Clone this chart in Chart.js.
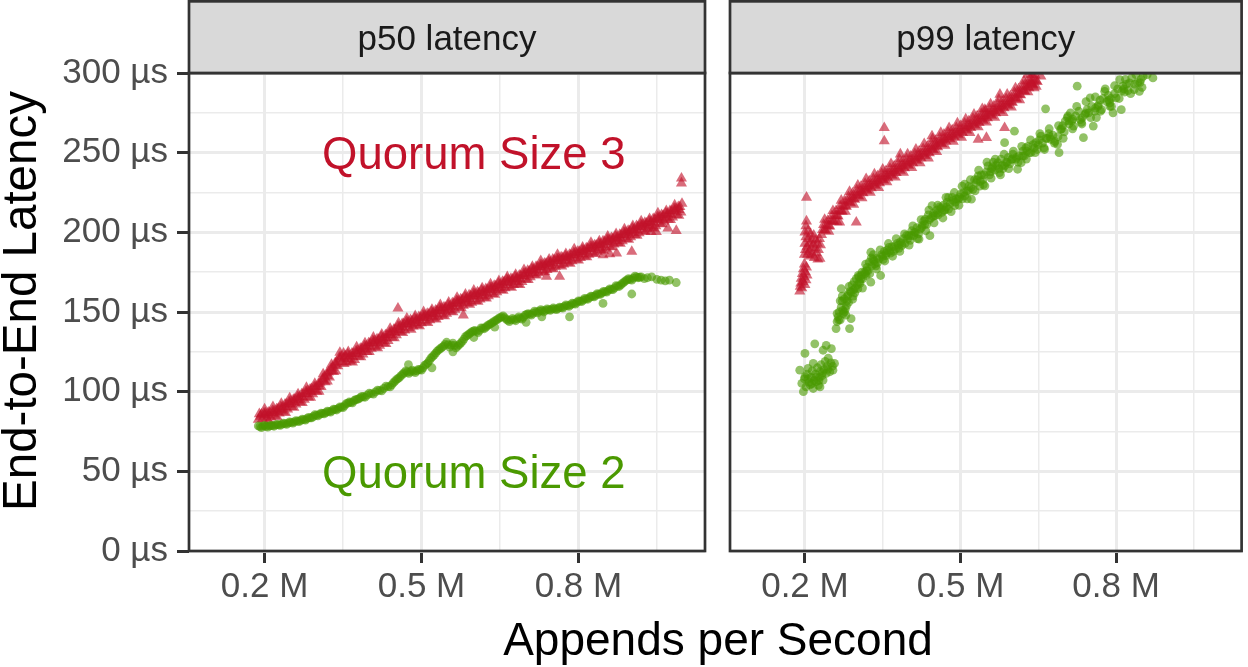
<!DOCTYPE html>
<html><head><meta charset="utf-8">
<script src="https://cdn.jsdelivr.net/npm/chart.js@4.4.1/dist/chart.umd.min.js"></script>
<style>
html,body{margin:0;padding:0;background:#fff;}
#wrap{position:relative;width:1248px;height:667px;overflow:hidden;font-family:"Liberation Sans",Arial,sans-serif;}
canvas{position:absolute;top:0;}
#c1{left:0;}
#c2{left:722px;}
#xt{position:absolute;left:718px;top:616px;transform:translateX(-50%);font-size:46px;line-height:46px;white-space:nowrap;color:#000;}
#yt{position:absolute;width:600px;height:48px;left:-280px;top:277px;transform:rotate(-90deg);text-align:center;font-size:47.5px;line-height:48px;white-space:nowrap;color:#000;}
</style></head>
<body>
<div id="wrap">
<canvas id="c1" width="712" height="667"></canvas>
<canvas id="c2" width="526" height="667"></canvas>
<div id="xt">Appends per Second</div>
<div id="yt">End-to-End Latency</div>
</div>
<script>
// ---- axis / label data ----
const facetLabels = ['p50 latency', 'p99 latency'];
const seriesLabels = ['Quorum Size 3', 'Quorum Size 2'];
const xLimits = [0.0555, 1.042];
const yLimits = [0, 300];
const xMajor = [0.2, 0.5, 0.8];
const xMajorLabels = ['0.2 M', '0.5 M', '0.8 M'];
const xMinor = [0.35, 0.65, 0.95];
const yMajor = [0, 50, 100, 150, 200, 250, 300];
const yMajorLabels = ['0 µs', '50 µs', '100 µs', '150 µs', '200 µs', '250 µs', '300 µs'];
const yMinor = [25, 75, 125, 175, 225, 275];
const annotX = 0.6;
const annotY = [250, 50];

// ---- series values: [appends per second (M), latency (µs)] ----
const p50Q3 = [
[0.188,82.5],[0.190,86],[0.196,83],[0.199,86.5],[0.204,83.5],[0.207,87],[0.212,84],[0.215,88],[0.220,85],[0.223,89],
[0.228,86.5],[0.231,90.5],[0.236,87.5],[0.239,92],[0.244,89],[0.247,93.5],[0.252,90.5],[0.255,95],[0.260,92],[0.263,96.5],
[0.268,93.5],[0.271,98.5],[0.276,95],[0.279,100],[0.284,96.5],[0.287,101.5],[0.292,98.5],[0.295,103],[0.300,100],[0.303,105],
[0.308,103],[0.311,108],[0.316,106],[0.319,111.5],[0.324,109],[0.327,114.5],[0.332,112.5],[0.335,118],[0.340,116],[0.343,121.5],
[0.348,118.5],[0.351,124],[0.356,118.5],[0.359,123.5],[0.364,119],[0.367,124],[0.372,120],[0.375,125.5],[0.380,122],[0.383,127],
[0.388,123.5],[0.391,128.5],[0.396,125],[0.399,130.5],[0.404,127],[0.407,132],[0.412,128],[0.415,133],[0.420,129],[0.423,134.5],
[0.428,130.5],[0.431,135.5],[0.436,132],[0.439,137],[0.444,134],[0.447,139],[0.452,135.5],[0.455,141],[0.460,137.5],[0.463,142.5],
[0.468,138.5],[0.471,144],[0.476,140],[0.479,145],[0.484,141],[0.487,146],[0.492,142],[0.495,147],[0.500,143],[0.503,148],
[0.508,144],[0.511,149],[0.516,145],[0.519,150],[0.524,146],[0.527,151],[0.532,147],[0.535,152.5],[0.540,148],[0.543,153],
[0.548,149],[0.551,154.5],[0.556,150.5],[0.559,155.5],[0.564,151.5],[0.567,157],[0.572,153],[0.575,158],[0.580,154],[0.583,159.5],
[0.588,155.5],[0.591,160.5],[0.596,156],[0.599,161.5],[0.604,157],[0.607,162.5],[0.612,158],[0.615,163.5],[0.620,159],[0.623,164.5],
[0.628,160],[0.631,165.5],[0.636,161.5],[0.639,166.5],[0.644,162.5],[0.647,168],[0.652,164],[0.655,169],[0.660,165],[0.663,170.5],
[0.668,166],[0.671,171],[0.676,167],[0.679,172],[0.684,167.5],[0.687,173],[0.692,169],[0.695,174],[0.700,170.5],[0.703,176],
[0.708,172],[0.711,177],[0.716,173.5],[0.719,178.5],[0.724,174.5],[0.727,179.5],[0.732,175.5],[0.735,180.5],[0.740,176.5],[0.743,181.5],
[0.748,177.5],[0.751,183],[0.756,178.5],[0.759,183.5],[0.764,179.5],[0.767,184.5],[0.772,180],[0.775,185],[0.780,181],[0.783,186],
[0.788,182],[0.791,187],[0.796,183],[0.799,188],[0.804,184],[0.807,189],[0.812,185],[0.815,190],[0.820,186],[0.823,191],
[0.828,187],[0.831,192],[0.836,188],[0.839,193],[0.844,189],[0.847,194.5],[0.852,190],[0.855,195.5],[0.860,191],[0.863,196.5],
[0.868,192.5],[0.871,197.5],[0.876,193.5],[0.879,198.5],[0.884,194.5],[0.887,200],[0.892,196],[0.895,201],[0.900,197],[0.903,202.5],
[0.908,198.5],[0.911,204],[0.916,199.5],[0.919,205],[0.924,201],[0.927,206],[0.932,202],[0.935,207],[0.940,203],[0.943,208.5],
[0.948,204],[0.951,209.5],[0.956,205.5],[0.959,211],[0.964,207],[0.967,212],[0.972,208],[0.975,213.5],[0.980,209.5],[0.983,215],
[0.988,211],[0.991,216],[0.996,212.5],[0.998,218],
[0.192,84.4],[0.200,85.3],[0.208,85.2],[0.216,86.4],[0.224,87.4],[0.232,88.5],[0.240,90.2],[0.248,92.2],[0.256,93.4],[0.264,94.6],
[0.272,96.6],[0.280,98.6],[0.288,99.8],[0.296,101],[0.304,103.5],[0.312,107.2],[0.320,110],[0.328,112.9],[0.336,116.6],[0.344,120.3],
[0.352,121],[0.360,120.6],[0.368,122],[0.376,124],[0.384,125.2],[0.392,126.5],[0.400,128.5],[0.408,130.3],[0.416,130.9],[0.424,131.7],
[0.432,133.5],[0.440,135.8],[0.448,137.2],[0.456,138.6],[0.464,140.6],[0.472,142.1],[0.480,142.6],[0.488,143.2],[0.496,144.7],[0.504,146.3],
[0.512,146.8],[0.520,147.4],[0.528,148.9],[0.536,150.5],[0.544,151],[0.552,151.7],[0.560,153.5],[0.568,155.3],[0.576,156],[0.584,156.8],
[0.592,158.2],[0.600,159.7],[0.608,160.1],[0.616,160.7],[0.624,162.1],[0.632,163.6],[0.640,164.4],[0.648,165.2],[0.656,167],[0.664,168.4],
[0.672,168.8],[0.680,169.2],[0.688,170.6],[0.696,172.7],[0.704,173.7],[0.712,174.6],[0.720,176.4],[0.728,178],[0.736,178.5],[0.744,179.1],
[0.752,180.6],[0.760,181.9],[0.768,182.2],[0.776,182.6],[0.784,183.9],[0.792,185.5],[0.800,186],[0.808,186.6],[0.816,188],[0.824,189.5],
[0.832,190],[0.840,190.6],[0.848,192.1],[0.856,193.7],[0.864,194.2],[0.872,194.8],[0.880,196.4],[0.888,198.2],[0.896,199],[0.904,199.8],
[0.912,201.6],[0.920,203.2],[0.928,203.8],[0.936,204.4],[0.944,206.1],[0.952,207.9],[0.960,208.7],[0.968,209.5],[0.976,211.3],[0.984,213.2],[0.992,214.1],
[0.194,85.8],[0.202,86.5],[0.210,86.8],[0.218,88],[0.226,89.2],[0.234,90.3],[0.242,92],[0.250,94],[0.258,95.3],[0.266,96.6],
[0.274,98.5],[0.282,100.5],[0.290,101.8],[0.298,103],[0.306,105.8],[0.314,109.2],[0.322,112.2],[0.330,115.2],[0.338,118.8],[0.346,122],
[0.354,122.5],[0.362,122.4],[0.370,123.8],[0.378,125.8],[0.386,127],[0.394,128.5],[0.402,130.3],[0.410,131.8],[0.418,132.6],[0.426,133.6],
[0.434,135.4],[0.442,137.6],[0.450,139.1],[0.458,140.6],[0.466,142.3],[0.474,143.6],[0.482,144.3],[0.490,145.2],[0.498,146.5],[0.506,147.8],
[0.514,148.6],[0.522,149.4],[0.530,150.7],[0.538,152.2],[0.546,152.8],[0.554,153.6],[0.562,155.3],[0.570,156.9],[0.578,157.8],[0.586,158.6],
[0.594,160],[0.602,161.3],[0.610,161.9],[0.618,162.6],[0.626,163.9],[0.634,165.3],[0.642,166.2],[0.650,167.2],[0.658,168.8],[0.666,170],
[0.674,170.5],[0.682,171.2],[0.690,172.6],[0.698,174.4],[0.706,175.5],[0.714,176.6],[0.722,178.2],[0.730,179.6],[0.738,180.3],[0.746,181.1],
[0.754,182.4],[0.762,183.5],[0.770,184],[0.778,184.6],[0.786,185.7],[0.794,187.2],[0.802,187.8],[0.810,188.6],[0.818,189.8],[0.826,191.2],
[0.834,191.8],[0.842,192.6],[0.850,193.9],[0.858,195.4],[0.866,196],[0.874,196.8],[0.882,198.3],[0.890,200],[0.898,200.8],[0.906,201.8],
[0.914,203.4],[0.922,204.9],[0.930,205.6],[0.938,206.4],[0.946,208],[0.954,209.6],[0.962,210.5],[0.970,211.5],[0.978,213.2],[0.986,214.9],[0.994,216],
[0.200,89],[0.216,90.5],[0.232,92.5],[0.248,96],[0.264,98.5],[0.280,102.5],[0.296,105],[0.312,111],[0.328,117],[0.344,124.5],
[0.360,125],[0.376,128],[0.392,130.5],[0.408,134],[0.424,136],[0.440,139.5],[0.456,143],[0.472,146],[0.488,147.5],[0.504,150],
[0.520,151.5],[0.536,154.5],[0.552,156],[0.568,159],[0.584,161],[0.600,163.5],[0.616,165],[0.632,167.5],[0.648,169.5],[0.664,172],
[0.680,173.5],[0.696,176.5],[0.712,178.5],[0.728,182],[0.744,183],[0.760,186],[0.776,186.5],[0.792,189.5],[0.808,190.5],[0.824,193.5],
[0.840,194.5],[0.856,197.5],[0.872,199],[0.888,202],[0.904,204],[0.920,207],[0.936,208.5],[0.952,212],[0.968,213.5],[0.984,217],
[0.208,81.7],[0.224,84],[0.240,86.7],[0.256,90],[0.272,93],[0.288,96.3],[0.304,100],[0.320,106.5],[0.336,113],[0.352,117.5],
[0.368,118.5],[0.384,121.7],[0.400,125],[0.416,127.4],[0.432,130],[0.448,133.7],[0.464,137],[0.480,139],[0.496,141.2],[0.512,143.3],
[0.528,145.4],[0.544,147.5],[0.560,150],[0.576,152.5],[0.592,154.7],[0.608,156.6],[0.624,158.6],[0.640,161],[0.656,163.5],[0.672,165.3],
[0.688,167],[0.704,170.2],[0.720,173],[0.736,175],[0.752,177],[0.768,178.7],[0.784,180.4],[0.800,182.5],[0.816,184.5],[0.832,186.5],
[0.848,188.6],[0.864,190.7],[0.880,193],[0.896,195.5],[0.912,198],[0.928,200.3],[0.944,202.6],[0.960,205.2],[0.976,207.8],[0.992,210.6],
[0.455,152.3],[0.580,148],[0.739,172.2],[0.764,172.2],[0.847,185.8],[0.860,186.4],[0.873,186.8],[0.902,187.9],
[0.939,200.4],[0.949,200.4],[0.971,202.5],[0.987,201],[0.997,233.9],[0.997,230.8]
];
const p50Q2 = [
[0.188,78.5],[0.194,77.5],[0.200,78.8],[0.206,77.8],[0.212,78.9],[0.218,78.3],[0.224,79.5],[0.230,78.9],[0.236,80.2],[0.242,79.5],
[0.248,81],[0.254,80.3],[0.260,81.8],[0.266,81.2],[0.272,82.8],[0.278,82.2],[0.284,83.8],[0.290,83.5],[0.296,85.5],[0.302,84.8],
[0.308,86.5],[0.314,86],[0.320,87.8],[0.326,87.2],[0.332,89],[0.338,88.5],[0.344,90.5],[0.350,90],[0.356,92.5],[0.362,93.5],
[0.368,93],[0.374,95],[0.380,95.5],[0.386,97],[0.392,96.5],[0.400,99],[0.408,98.5],[0.416,101],[0.424,100.5],[0.432,103.5],
[0.440,103],[0.446,105.5],[0.452,107.5],[0.458,109],[0.464,111],[0.470,113],[0.476,111.5],[0.482,113.5],[0.488,112],[0.494,114],
[0.500,113.5],[0.506,116.5],[0.512,118],[0.518,121],[0.524,123],[0.530,125.5],[0.536,127],[0.542,128.5],[0.548,131],[0.554,128],
[0.560,130.5],[0.566,127.5],[0.572,129.5],[0.578,131.5],[0.584,134.5],[0.590,136],[0.596,137.5],[0.602,138.5],[0.608,137],[0.614,140],
[0.620,139.5],[0.626,141.5],[0.632,142.5],[0.638,144],[0.644,145],[0.650,146.5],[0.656,147.5],[0.662,145.5],[0.668,144],[0.674,146],
[0.680,144.5],[0.686,147],[0.692,145.5],[0.698,148],[0.704,149],[0.710,148],[0.716,150.5],[0.722,149.5],[0.728,151.5],[0.734,150],
[0.740,152],[0.746,151],[0.752,152.5],[0.758,151.5],[0.764,153],[0.770,152.5],[0.776,154.5],[0.782,153.5],[0.788,155.5],[0.794,155],
[0.800,157],[0.806,156.5],[0.812,158.5],[0.818,158],[0.824,160],[0.830,159.5],[0.836,161.5],[0.842,161],[0.848,163],[0.854,162.5],
[0.860,164.5],[0.866,164],[0.872,166.5],[0.878,166],[0.884,168],[0.890,169.5],[0.896,171],[0.902,170],[0.908,172.5],[0.914,171.5],
[0.920,172],[0.926,171],[0.932,171.5],[0.940,172],[0.950,170.5],[0.958,170],[0.966,169.5],[0.974,170],[0.987,168.5],
[0.191,78],[0.197,78.4],[0.203,78.2],[0.209,78.5],[0.215,78.7],[0.221,79.1],[0.227,79.2],[0.233,79.6],[0.239,79.9],[0.245,80.3],
[0.251,80.7],[0.257,81.1],[0.263,81.5],[0.269,82],[0.275,82.5],[0.281,83],[0.287,83.6],[0.293,84.4],[0.299,85.2],[0.305,85.7],
[0.311,86.3],[0.317,86.9],[0.323,87.5],[0.329,88.1],[0.335,88.8],[0.341,89.5],[0.347,90.3],[0.353,91.3],[0.359,92.8],[0.365,93.3],
[0.371,94.3],[0.377,95.2],[0.383,96.3],[0.389,96.8],[0.396,97.8],[0.404,98.8],[0.412,99.8],[0.420,100.8],[0.428,102],[0.436,103.2],
[0.443,104.3],[0.449,106.5],[0.455,108.2],[0.461,110],[0.467,112],[0.473,112.2],[0.479,112.5],[0.485,112.8],[0.491,113],[0.497,113.8],
[0.503,115],[0.509,117.2],[0.515,119.5],[0.521,122],[0.527,124.2],[0.533,126.2],[0.539,127.8],[0.545,129.7],[0.551,129.5],[0.557,129.2],
[0.563,129],[0.569,128.5],[0.575,130.5],[0.581,133],[0.587,135.2],[0.593,136.8],[0.599,138],[0.605,137.8],[0.611,138.5],[0.617,139.8],
[0.623,140.5],[0.629,142],[0.635,143.2],[0.641,144.5],[0.647,145.8],[0.653,147],[0.659,146.5],[0.665,144.8],[0.671,145],[0.677,145.2],
[0.683,145.8],[0.689,146.2],[0.695,146.8],[0.701,148.5],[0.707,148.5],[0.713,149.2],[0.719,150],[0.725,150.5],[0.731,150.8],[0.737,151],
[0.743,151.5],[0.749,151.8],[0.755,152],[0.761,152.2],[0.767,152.8],[0.773,153.5],[0.779,154],[0.785,154.5],[0.791,155.2],[0.797,156],
[0.803,156.8],[0.809,157.5],[0.815,158.2],[0.821,159],[0.827,159.8],[0.833,160.5],[0.839,161.2],[0.845,162],[0.851,162.8],[0.857,163.5],
[0.863,164.2],[0.869,165.2],[0.875,166.2],[0.881,167],[0.887,168.8],[0.893,170.2],[0.899,170.5],[0.905,171.2],[0.911,172],[0.917,171.8],
[0.52,115],[0.56,125],[0.60,134],[0.64,140.5],[0.70,143.5],[0.73,147],[0.847,155.4],[0.902,161.3],[0.783,147],[0.475,117]
];
const p99Q3 = [
[0.190,163],[0.191,166],[0.192,168],[0.193,171],[0.194,165],[0.195,174],[0.196,169],[0.197,177],[0.198,172],[0.199,180],
[0.200,167],[0.201,175],[0.202,170],[0.203,178],[0.204,173],
[0.199,186],[0.200,193],[0.200,200],[0.201,189],[0.202,204],[0.202,197],[0.203,207],[0.203,221.9],[0.204,191],[0.205,186],
[0.206,201],[0.207,196],[0.208,188],[0.209,193],[0.210,185],[0.211,199],[0.212,190],[0.214,195],[0.215,186],[0.216,192],
[0.217,198],[0.218,184],[0.220,190],[0.221,195],[0.222,187],[0.224,193],[0.225,183],[0.226,189],[0.228,196],[0.229,183.5],[0.230,192],
[0.232,198.5],[0.236,204.8],[0.240,201.1],[0.244,207.4],[0.248,203.75],[0.252,210.3],[0.256,206.9],[0.260,213.5],[0.264,210.1],[0.268,216.6],
[0.272,213.1],[0.276,219.7],[0.280,216.25],[0.284,222.3],[0.288,218.4],[0.292,224.5],[0.296,220.5],[0.300,226.6],[0.304,222.6],[0.308,228.7],
[0.312,224.7],[0.316,230.5],[0.320,226.3],[0.324,232.1],[0.328,227.8],[0.332,233.6],[0.336,229.4],[0.340,235.2],[0.344,231],[0.348,236.8],
[0.352,232.6],[0.356,238.4],[0.360,234.1],[0.364,239.9],[0.368,235.7],[0.372,241.5],[0.376,237.3],[0.380,243.1],[0.384,238.8],[0.388,244.6],
[0.392,240.4],[0.396,246.2],[0.400,241.9],[0.404,247.7],[0.408,243.5],[0.412,249.3],[0.416,245],[0.420,250.8],[0.424,246.6],[0.428,252.4],
[0.432,248.1],[0.436,253.9],[0.440,249.7],[0.444,255.7],[0.448,251.6],[0.452,257.6],[0.456,253.6],[0.460,259.5],[0.464,255.5],[0.468,261.4],
[0.472,257.2],[0.476,262.9],[0.480,258.5],[0.484,264.2],[0.488,259.8],[0.492,265.5],[0.496,261.1],[0.500,266.8],[0.504,262.5],[0.508,268.3],
[0.512,264],[0.516,269.8],[0.520,265.6],[0.524,271.4],[0.528,267.1],[0.532,272.9],[0.536,268.7],[0.540,274.5],[0.544,270.2],[0.548,276],
[0.552,271.8],[0.556,277.6],[0.560,273.3],[0.564,279.1],[0.568,274.9],[0.572,280.7],[0.576,276.5],[0.580,282.2],[0.584,278],[0.588,283.8],
[0.592,279.6],[0.596,285.3],[0.600,281.4],[0.604,287.6],[0.608,283.7],[0.612,289.9],[0.616,286.1],[0.620,292.2],[0.624,288.4],[0.628,294.6],
[0.632,290.6],[0.636,296.6],[0.640,292.6],[0.644,298.6],[0.648,294.4],
[0.234,201.6],[0.242,204.3],[0.250,207],[0.258,210.2],[0.266,213.4],[0.274,216.4],[0.282,219.3],[0.290,221.5],[0.298,223.6],[0.306,225.7],
[0.314,227.6],[0.322,229.2],[0.330,230.7],[0.338,232.3],[0.346,233.9],[0.354,235.5],[0.362,237],[0.370,238.6],[0.378,240.2],[0.386,241.7],
[0.394,243.3],[0.402,244.8],[0.410,246.4],[0.418,247.9],[0.426,249.5],[0.434,251],[0.442,252.7],[0.450,254.6],[0.458,256.5],[0.466,258.4],
[0.474,260],[0.482,261.3],[0.490,262.6],[0.498,264],[0.506,265.4],[0.514,266.9],[0.522,268.5],[0.530,270],[0.538,271.6],[0.546,273.1],
[0.554,274.7],[0.562,276.2],[0.570,277.8],[0.578,279.3],[0.586,280.9],[0.594,282.4],[0.602,284.5],[0.610,286.8],[0.618,289.1],[0.626,291.5],
[0.634,293.6],[0.642,295.6],
[0.238,201.5],[0.246,204],[0.254,207],[0.262,210.3],[0.270,213.4],[0.278,216.5],[0.286,218.9],[0.294,221],[0.302,223.1],[0.310,225.1],
[0.318,226.9],[0.326,228.5],[0.334,230],[0.342,231.6],[0.350,233.2],[0.358,234.8],[0.366,236.3],[0.374,237.9],[0.382,239.5],[0.390,241],
[0.398,242.6],[0.406,244.1],[0.414,245.7],[0.422,247.2],[0.430,248.8],[0.438,250.3],[0.446,252.1],[0.454,254.1],[0.462,256],[0.470,257.9],
[0.478,259.2],[0.486,260.4],[0.494,261.8],[0.502,263.1],[0.510,264.7],[0.518,266.2],[0.526,267.8],[0.534,269.3],[0.542,270.9],[0.550,272.4],
[0.558,274],[0.566,275.5],[0.574,277.1],[0.582,278.6],[0.590,280.2],[0.598,281.8],[0.606,284.2],[0.614,286.5],[0.622,288.8],[0.630,291.3],
[0.638,293.1],[0.646,295.1],
[0.238,208],[0.254,213.5],[0.270,220],[0.286,225.5],[0.302,229.5],[0.318,233.5],[0.334,236.5],[0.350,239.5],[0.366,243],[0.382,246],
[0.398,249],[0.414,252],[0.430,255.5],[0.446,258.5],[0.462,262.5],[0.478,265.5],[0.494,268.5],[0.510,271],[0.526,274],[0.542,277.5],
[0.558,280.5],[0.574,283.5],[0.590,286.5],[0.606,290.5],[0.622,295],[0.638,299],
[0.246,200.5],[0.262,206.5],[0.278,213],[0.294,217.5],[0.310,221.5],[0.326,225],[0.342,228],[0.358,231.5],[0.374,234.5],[0.390,237.5],
[0.406,240.5],[0.422,243.5],[0.438,246.5],[0.454,250.5],[0.470,254.5],[0.486,257],[0.502,259.5],[0.518,262.5],[0.534,266],[0.550,269],
[0.566,272],[0.582,275],[0.598,278.5],[0.614,283],[0.630,288],[0.646,291.5],
[0.353,265.6],[0.353,257.3],[0.299,206.25],[0.267,206.25],[0.534,258.3],[0.550,259.4],[0.585,265.6],[0.636,293.75],[0.642,290.6],
[0.655,297.9],[0.630,299],[0.384,249],[0.445,260.4],[0.547,277],[0.576,286.5]
];
const p99Q2 = [
[0.190,113.5],[0.194,105.2],[0.197,100],[0.199,108],[0.200,109.4],[0.200,124],[0.202,103],[0.204,111],[0.206,114.6],[0.208,106],
[0.210,104.2],[0.212,109],[0.214,113],[0.216,102],[0.216,117.7],[0.218,107],[0.219,130],[0.220,111],[0.222,106.25],[0.224,115],
[0.226,104],[0.228,109],[0.229,103],[0.229,112.5],[0.231,117],[0.233,110],[0.235,107.3],[0.235,126],[0.237,114],[0.239,119],
[0.241,111.5],[0.241,129],[0.243,116],[0.245,121],[0.248,112.5],[0.250,118],[0.251,127],[0.254,113.5],[0.257,117.7],
[0.260,139.6],[0.262,144],[0.264,147],[0.266,150],[0.268,145],[0.270,153],[0.270,164.6],[0.272,157],[0.274,149],[0.276,158.3],
[0.278,152],[0.280,154],[0.282,160],[0.284,156],[0.286,139.6],[0.287,163],[0.289,145.8],[0.289,162.5],[0.291,167],[0.293,160],
[0.295,169],[0.297,165],[0.299,171],[0.302,164.6],[0.304,172],[0.306,168],[0.308,170.8],[0.310,175],[0.312,171],[0.315,175],
[0.318,172.9],[0.320,178],[0.322,176],[0.324,181.25],[0.327,168.75],[0.327,187.5],[0.329,179],[0.331,183],[0.334,180],[0.337,179],
[0.339,184],[0.343,183.3],[0.346,172.9],[0.348,186],[0.351,183],[0.353,188],[0.356,185.4],[0.359,189],[0.362,190.6],[0.365,187],
[0.368,191],[0.371,188],[0.375,189.6],[0.378,193],[0.381,190],[0.384,194],[0.387,191.7],[0.390,196],[0.393,193],[0.396,198],
[0.400,197.9],[0.403,195],[0.406,201],[0.410,198],[0.413,200],[0.416,203],[0.420,195.8],[0.422,202],[0.426,204.2],[0.429,207],
[0.432,208.3],[0.435,205],[0.438,211],[0.441,197.9],[0.443,209],[0.445,216.7],[0.448,212],[0.451,210.4],[0.454,214],[0.457,211],
[0.460,216],[0.464,212.5],[0.467,217],[0.470,214],[0.474,219],[0.477,214.6],[0.477,221.9],[0.480,218],[0.484,222],[0.489,216.7],
[0.492,221],[0.496,220.8],[0.500,224],[0.504,221],[0.508,222.9],[0.508,230.2],[0.512,226],[0.516,229],[0.521,220.8],[0.524,227],
[0.527,233],[0.530,231.25],[0.534,235.4],[0.537,229],[0.540,236],[0.543,233],[0.547,229.2],[0.550,238],[0.553,241.7],[0.556,236],
[0.560,240],[0.563,244],[0.566,239],[0.569,242],[0.572,243.75],[0.575,237.5],[0.578,246],[0.582,240],[0.585,241.7],[0.585,256.25],
[0.588,244],[0.592,247],[0.595,243],[0.598,245.8],[0.601,249],[0.604,263.5],[0.607,246],[0.610,239.6],[0.613,248],[0.617,243.75],
[0.620,251],[0.623,247.9],[0.626,253],[0.630,254],[0.633,250],[0.636,250],[0.640,255],[0.645,256.25],[0.648,252],[0.652,258],
[0.655,260.4],[0.658,256],[0.661,253],[0.664,277.5],[0.667,259],[0.670,262],[0.674,258.3],[0.678,261],[0.682,257],[0.687,255.2],
[0.690,250],[0.693,264.6],[0.697,267],[0.700,263],[0.702,269.8],[0.706,272],[0.709,268],[0.712,275],[0.715,270],[0.718,266.7],
[0.722,273],[0.725,291.7],[0.728,276],[0.731,270.8],[0.734,268],[0.737,259.4],[0.740,274],[0.744,277],[0.747,275],[0.750,284.4],
[0.753,279],[0.756,266.7],[0.759,276],[0.762,272],[0.766,280],[0.769,283],[0.772,277],[0.775,284],[0.778,288.5],[0.782,282],
[0.785,286],[0.788,281.25],[0.791,279],[0.794,275],[0.797,287],[0.800,284.4],[0.803,290],[0.807,295.8],[0.810,277],[0.813,291.7],
[0.816,288],[0.820,293],[0.823,289],[0.826,293.75],[0.830,297],[0.835,289.6],[0.838,299],[0.842,294],[0.845,288.5],[0.848,296],
[0.852,297.9],[0.860,299],[0.871,296.9],
[0.206,108],[0.213,105],[0.221,109],[0.227,107],[0.234,112],[0.244,114],[0.253,116],[0.273,151],[0.281,157],[0.294,164],
[0.305,169],[0.316,174],[0.333,182],[0.357,187],[0.380,192],[0.405,198],[0.425,203],[0.447,210],[0.468,214],[0.490,219],
[0.515,226],[0.538,232],[0.558,238],[0.580,242],[0.600,246],[0.620,248],[0.642,253],[0.665,259],[0.688,260],[0.710,270],
[0.735,272],[0.760,278],[0.786,283],[0.812,289],[0.836,293],
[0.262,149],[0.268,157],[0.276,150],[0.283,161],[0.292,158],[0.301,167],[0.309,173],[0.319,176],[0.328,184],[0.340,181],
[0.350,185],[0.363,188],[0.372,191],[0.386,193],[0.398,196],[0.411,200],[0.419,199],[0.431,205],[0.440,208],[0.455,212],
[0.462,215],[0.473,216],[0.486,220],[0.498,222],[0.506,225],[0.520,228],[0.532,233],[0.545,236],[0.562,241],[0.574,240],
[0.590,244],[0.608,247],[0.628,251],[0.650,255],[0.672,260],[0.695,265],[0.716,271],[0.742,275],[0.765,279],[0.790,284],
[0.815,290],[0.846,294],
[0.265,145],[0.272,160],[0.279,148],[0.285,166],[0.296,162],[0.303,173],[0.311,165],[0.317,180],[0.325,174],[0.332,186],
[0.338,177],[0.345,189],[0.354,182],[0.361,193],[0.369,185],[0.376,196],[0.383,188],[0.392,199],[0.401,192],[0.408,204],
[0.417,196],[0.424,208],[0.433,201],[0.439,214],[0.449,206],[0.456,217],[0.466,209],[0.472,222],[0.482,213],[0.488,225],
[0.497,217],[0.503,229],[0.513,221],[0.519,233],[0.528,226],[0.535,239],[0.544,230],[0.551,244],[0.559,234],[0.567,246],
[0.577,236],[0.584,249],[0.593,240],[0.602,251],[0.611,244],[0.618,254],[0.627,246],[0.635,258],[0.644,250],[0.653,262],
[0.662,252],[0.671,265],[0.681,256],[0.689,267],[0.698,259],[0.707,273],[0.716,265],[0.724,279],[0.733,269],[0.742,282],
[0.751,272],[0.760,285],[0.770,276],[0.779,290],[0.788,279],[0.797,292],[0.806,284],[0.818,296],[0.828,287],[0.850,291]
];

// ---- styling ----
const FONT = '"Liberation Sans", Arial, sans-serif';
const RED = 'rgba(193,18,42,0.62)', RED_TXT = 'rgb(193,18,42)';
const GREEN = 'rgba(74,153,0,0.6)', GREEN_TXT = 'rgb(74,153,0)';
const GRID = '#ebebeb', DARK = '#333333';

function near(list, v) { return list.findIndex(m => Math.abs(m - v) < 1e-6); }
function tickVal(c) { return c && c.tick ? c.tick.value : NaN; }

function xScale() {
  return {
    type: 'linear', min: xLimits[0], max: xLimits[1],
    afterBuildTicks: s => { s.ticks = [...xMajor, ...xMinor].sort((a, b) => a - b).map(v => ({ value: v })); },
    afterFit: s => { s.height = 116; },
    border: { display: false },
    grid: {
      color: GRID,
      lineWidth: c => near(xMajor, tickVal(c)) >= 0 ? 3 : 1.5,
      drawTicks: true, tickLength: 12, tickWidth: 3,
      tickColor: c => near(xMajor, tickVal(c)) >= 0 ? DARK : 'rgba(0,0,0,0)'
    },
    ticks: {
      autoSkip: false, maxRotation: 0, minRotation: 0, padding: 3, color: '#4d4d4d',
      font: { family: FONT, size: 35 },
      callback: v => { const i = near(xMajor, v); return i < 0 ? '' : xMajorLabels[i]; }
    }
  };
}
function yScale(showLabels) {
  return {
    type: 'linear', min: yLimits[0], max: yLimits[1],
    afterBuildTicks: s => { s.ticks = [...yMajor, ...yMinor].sort((a, b) => a - b).map(v => ({ value: v })); },
    afterFit: s => { s.width = showLabels ? 189 : 8; },
    border: { display: false },
    grid: {
      color: GRID,
      lineWidth: c => near(yMajor, tickVal(c)) >= 0 ? 3 : 1.5,
      drawTicks: showLabels, tickLength: 12, tickWidth: 3,
      tickColor: c => near(yMajor, tickVal(c)) >= 0 ? DARK : 'rgba(0,0,0,0)'
    },
    ticks: {
      display: showLabels, autoSkip: false, padding: 9, color: '#4d4d4d',
      font: { family: FONT, size: 35 },
      callback: v => { const i = near(yMajor, v); return i < 0 ? '' : yMajorLabels[i]; }
    }
  };
}

const panelPlugin = {
  id: 'panel',
  beforeDatasetsDraw(chart, args, opts) {
    if (!opts.annot) return;
    const ctx = chart.ctx, xs = chart.scales.x, ys = chart.scales.y;
    const size = 45.5, capHalf = size * 0.358;
    ctx.save();
    ctx.font = size + 'px ' + FONT;
    ctx.textAlign = 'center'; ctx.textBaseline = 'alphabetic';
    ctx.fillStyle = RED_TXT;
    ctx.fillText(seriesLabels[0], xs.getPixelForValue(annotX), ys.getPixelForValue(annotY[0]) + capHalf);
    ctx.fillStyle = GREEN_TXT;
    ctx.fillText(seriesLabels[1], xs.getPixelForValue(annotX), ys.getPixelForValue(annotY[1]) + capHalf);
    ctx.restore();
  },
  afterDatasetsDraw(chart, args, opts) {
    const ctx = chart.ctx, a = chart.chartArea;
    const w = a.right - a.left, top = 1.35;
    ctx.save();
    ctx.strokeStyle = DARK; ctx.lineWidth = 2.7;
    ctx.strokeRect(a.left, a.top, w, a.bottom - a.top);
    ctx.fillStyle = '#d9d9d9';
    ctx.fillRect(a.left, top, w, a.top - top);
    ctx.strokeRect(a.left, top, w, a.top - top);
    ctx.fillStyle = '#1a1a1a';
    ctx.font = '35px ' + FONT;
    ctx.textAlign = 'center'; ctx.textBaseline = 'alphabetic';
    ctx.fillText(opts.strip, a.left + w / 2, (top + a.top) / 2 + 35 * 0.358);
    ctx.restore();
  }
};

function ds(label, arr, style, color, r) {
  return {
    label, data: arr.map(([x, y]) => ({ x, y })),
    pointStyle: style, pointRadius: r, radius: r, pointHoverRadius: r,
    backgroundColor: color, pointBackgroundColor: color,
    borderWidth: 0, pointBorderWidth: 0, showLine: false, clip: 0
  };
}

function makeChart(id, green, red, strip, first) {
  return new Chart(document.getElementById(id), {
    type: 'scatter',
    data: { datasets: [ds(seriesLabels[1], green, 'circle', GREEN, 4.4), ds(seriesLabels[0], red, 'triangle', RED, 6.4)] },
    options: {
      responsive: false, animation: false, devicePixelRatio: 1, events: [],
      layout: { padding: { top: 73, right: first ? 7 : 1, left: 0, bottom: 0 } },
      scales: { x: xScale(), y: yScale(first) },
      plugins: { legend: { display: false }, tooltip: { enabled: false }, title: { display: false },
        panel: { strip, annot: first } }
    },
    plugins: [panelPlugin]
  });
}

makeChart('c1', p50Q2, p50Q3, facetLabels[0], true);
makeChart('c2', p99Q2, p99Q3, facetLabels[1], false);
</script>
</body></html>
